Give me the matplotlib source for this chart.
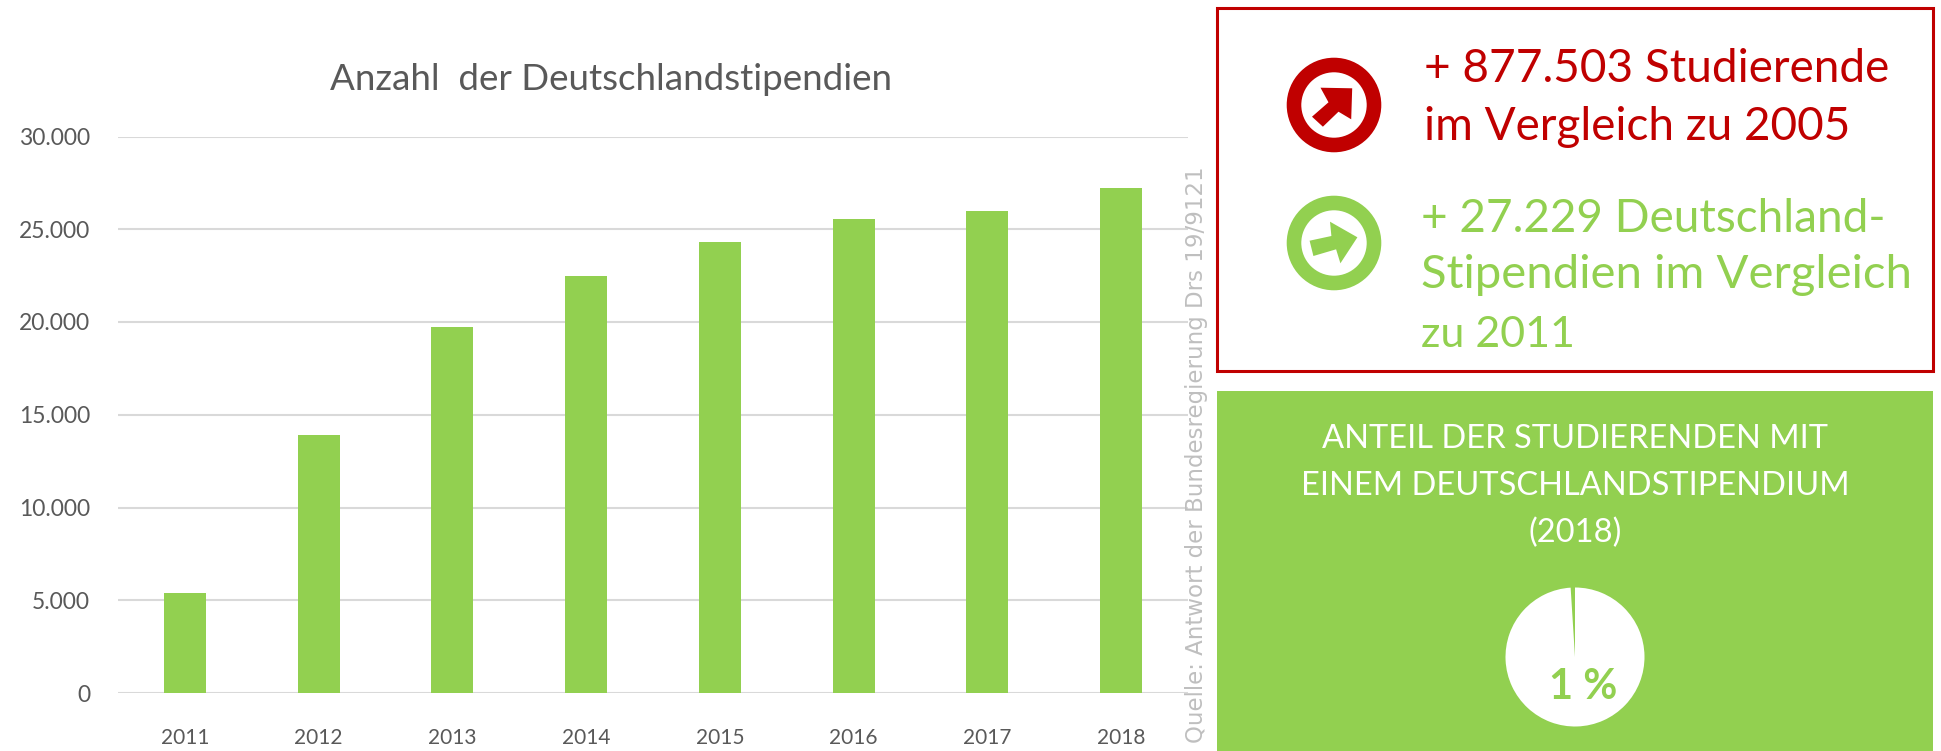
import matplotlib

matplotlib.use("Agg")
import matplotlib.pyplot as plt
from matplotlib.patches import Circle, Polygon, Rectangle

W, H = 1941, 751
GREEN = "#92D050"
RED = "#C00000"
DARK = "#595959"
FONT = ["Lato", "DejaVu Sans"]

years = ["2011", "2012", "2013", "2014", "2015", "2016", "2017", "2018"]
stipendien = [5375, 13900, 19740, 22500, 24300, 25530, 25970, 27229]
y_ticks = [0, 5000, 10000, 15000, 20000, 25000, 30000]
y_labels = ["0", "5.000", "10.000", "15.000", "20.000", "25.000", "30.000"]
pie_values = [1, 99]

plt.rcParams["font.family"] = FONT

fig = plt.figure(figsize=(W / 100, H / 100), dpi=100)


def pixel_axes(zorder):
    # full figure axes in pixel coords, y going down like the reference
    a = fig.add_axes([0, 0, 1, 1], zorder=zorder)
    a.set_xlim(0, W)
    a.set_ylim(H, 0)
    a.axis("off")
    return a


bg = pixel_axes(0)
bg.add_patch(Rectangle((1217, 8), 716, 363, fill=False, ec=RED, lw=2.2))
bg.add_patch(Rectangle((1217, 391), 716, 360, fc=GREEN, ec="none"))

# chart
ax = fig.add_axes([118 / W, 1 - 693 / H, 1070 / W, 556.5 / H], zorder=1)
ax.patch.set_alpha(0)
ax.bar(range(len(years)), stipendien, width=0.315, color=GREEN, zorder=3)
ax.set_xlim(-0.5, len(years) - 0.5)
ax.set_ylim(0, 30000)
ax.set_xticks(range(len(years)))
ax.set_xticklabels(years, fontsize=15, color=DARK)
ax.set_yticks(y_ticks)
ax.set_yticklabels(y_labels, fontsize=16.5, color=DARK)
ax.tick_params(length=0)
ax.tick_params(axis="x", pad=25)
ax.tick_params(axis="y", pad=20)
ax.grid(axis="y", color="#D9D9D9", lw=1.5, zorder=0)
ax.set_axisbelow(True)
for s in ax.spines.values():
    s.set_visible(False)

pie_ax = fig.add_axes([(1575 - 70) / W, 1 - (657 + 70) / H, 140 / W, 140 / H], zorder=2)
pie_ax.pie(pie_values, colors=[GREEN, "white"], startangle=90, radius=1.0,
           wedgeprops={"linewidth": 0})
pie_ax.set_xlim(-70 / 69.5, 70 / 69.5)
pie_ax.set_ylim(-70 / 69.5, 70 / 69.5)

top = pixel_axes(3)
top.text(611, 79, "Anzahl  der Deutschlandstipendien", fontsize=26.5, color=DARK,
         ha="center", va="center")
top.text(1197, 743, "Quelle: Antwort der Bundesregierung Drs 19/9121",
         fontsize=16.5, color="#BFBFBF", rotation=90, ha="center", va="bottom",
         family="DejaVu Sans")

# icons
for cy, col in [(105, RED), (243, GREEN)]:
    top.add_patch(Circle((1334, cy), 40, fc="white", ec=col, lw=10.5))
top.add_patch(Polygon([(1320.5, 87.7), (1352.2, 88.3), (1351.2, 119.3), (1338.5, 111.7),
                       (1322.9, 126.7), (1312, 116.7), (1328.5, 102.3)], fc=RED, ec="none"))
top.add_patch(Polygon([(1330, 221.7), (1357.4, 237.3), (1340.4, 263.3), (1336.1, 249.3),
                       (1313.4, 256), (1309.6, 240.7), (1331.4, 236)], fc=GREEN, ec="none"))

# callouts
top.text(1424, 82, "+ 877.503 Studierende", fontsize=33, color=RED, va="baseline")
top.text(1424, 140, "im Vergleich zu 2005", fontsize=33, color=RED, va="baseline")
top.text(1421, 232, "+ 27.229 Deutschland-", fontsize=33, color=GREEN, va="baseline")
top.text(1421, 288, "Stipendien im Vergleich", fontsize=34, color=GREEN, va="baseline")
top.text(1421, 347, "zu 2011", fontsize=31, color=GREEN, va="baseline")

# share panel
top.text(1575, 439, "ANTEIL DER STUDIERENDEN MIT", fontsize=23.5, color="white",
         ha="center", va="center")
top.text(1575, 486, "EINEM DEUTSCHLANDSTIPENDIUM", fontsize=23.5, color="white",
         ha="center", va="center")
top.text(1575, 533, "(2018)", fontsize=23.5, color="white", ha="center", va="center")
top.text(1583, 687, "1 %", fontsize=30, color=GREEN, fontweight="bold",
         ha="center", va="center")

fig.savefig("out.png", dpi=100)
